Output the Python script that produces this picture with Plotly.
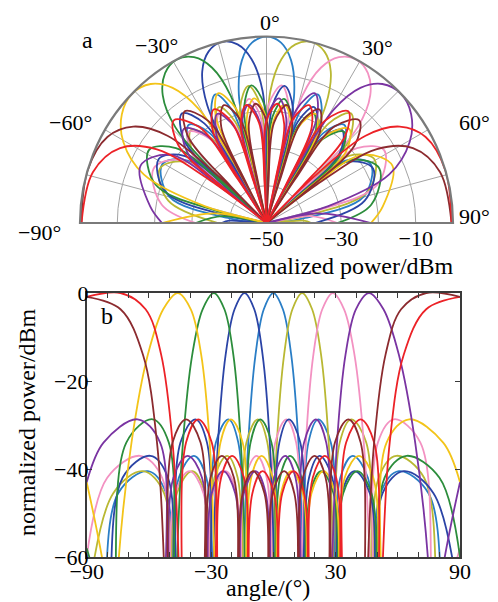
import plotly.graph_objects as go

# ---------------- data ----------------
# angles (deg) of key points of each beam pattern; cart_* = dB values in panel b,
# pol_* = dB values in panel a (polar, radial range -50..0)

ang_0 = [-90, -82.7, -74.8, -60.5, -51.7, -49.3, -48.6, -47.9, -45.6, -38.3, -32.3, -30.5, -30.0, -29.5, -27.7, -21.7,
         -16.9, -15.2, -14.8, -14.2, -12.1, -8.6, -4.6, 0, 4.6, 8.6, 12.1, 14.2, 14.8, 15.2, 16.9, 21.7, 27.7, 29.5, 30.0,
         30.5, 32.3, 38.3, 45.6, 47.9, 48.6, 49.3, 51.7, 60.5, 74.8, 82.7, 90]
cart_0 = [-95, -78, -45.5, -40.5, -45.5, -78, -95, -75, -42, -37, -42, -75, -95, -70, -34, -28.7, -34, -70, -95, -62,
          -34, -14, -3.7, 0, -3.7, -14, -34, -62, -95, -70, -34, -28.7, -34, -70, -95, -75, -42, -37, -42, -75, -95,
          -78, -45.5, -40.5, -45.5, -78, -95]
pol_0 = [-50, -40, -23, -17.9, -23, -40, -50, -38, -21.5, -16.4, -21.5, -38, -50, -36, -18.5, -12.9, -18.5, -36, -50,
         -33, -14.6, -5.9, -1.5, 0, -1.5, -5.9, -14.6, -33, -50, -36, -18.5, -12.9, -18.5, -36, -50, -38, -21.5, -16.4,
         -21.5, -38, -50, -40, -23, -17.9, -23, -40, -50]

ang_p14 = [-90, -77.2, -62.9, -52.7, -50.2, -49.5, -48.8, -46.5, -39.1, -33.0, -31.2, -30.7, -30.1, -28.4, -22.3, -17.2,
           -15.5, -15.1, -14.6, -13.0, -7.5, -2.9, -1.3, -0.9, -0.3, 1.7, 5.2, 9.2, 13.9, 18.7, 23.0, 26.7, 29.0, 29.7,
           30.2, 32.0, 37.6, 44.8, 47.1, 47.7, 48.4, 50.8, 59.3, 72.7, 79.1, 81.9, 86.4, 90]
cart_p14 = [-72, -45.5, -40.5, -45.5, -78, -95, -78, -45.5, -40.5, -45.5, -78, -95, -75, -42, -37, -42, -75, -95, -70,
            -34, -28.7, -34, -70, -95, -62, -34, -14, -3.7, 0, -3.7, -14, -34, -62, -95, -70, -34, -28.7, -34, -70, -95,
            -75, -42, -37, -42, -75, -95, -78, -74]
pol_p14 = [-37, -23, -17.9, -23, -40, -50, -40, -23, -17.9, -23, -40, -50, -38, -21.5, -16.4, -21.5, -38, -50, -36,
           -18.5, -12.9, -18.5, -36, -50, -33, -14.6, -5.9, -1.5, 0, -1.5, -5.9, -14.6, -33, -50, -36, -18.5, -12.9,
           -18.5, -36, -50, -38, -21.5, -16.4, -21.5, -38, -50, -40, -38]

ang_m14 = [-90, -86.4, -81.9, -79.1, -72.7, -59.3, -50.8, -48.4, -47.7, -47.1, -44.8, -37.6, -32.0, -30.2, -29.7, -29.0,
           -26.7, -23.0, -18.7, -13.9, -9.2, -5.2, -1.7, 0.3, 0.9, 1.3, 2.9, 7.5, 13.0, 14.6, 15.1, 15.5, 17.2, 22.3,
           28.4, 30.1, 30.7, 31.2, 33.0, 39.1, 46.5, 48.8, 49.5, 50.2, 52.7, 62.9, 77.2, 90]
cart_m14 = [-74, -78, -95, -75, -42, -37, -42, -75, -95, -70, -34, -28.7, -34, -70, -95, -62, -34, -14, -3.7, 0, -3.7,
            -14, -34, -62, -95, -70, -34, -28.7, -34, -70, -95, -75, -42, -37, -42, -75, -95, -78, -45.5, -40.5, -45.5,
            -78, -95, -78, -45.5, -40.5, -45.5, -72]
pol_m14 = [-38, -40, -50, -38, -21.5, -16.4, -21.5, -38, -50, -36, -18.5, -12.9, -18.5, -36, -50, -33, -14.6, -5.9,
           -1.5, 0, -1.5, -5.9, -14.6, -33, -50, -36, -18.5, -12.9, -18.5, -36, -50, -38, -21.5, -16.4, -21.5, -38, -50,
           -40, -23, -17.9, -23, -40, -50, -40, -23, -17.9, -23, -37]

ang_p29 = [-90, -80.1, -64.2, -53.6, -51.1, -50.4, -49.6, -47.3, -40.5, -33.7, -31.9, -31.3, -30.8, -29.0, -23.0, -17.8,
           -16.1, -15.7, -15.2, -13.6, -8.0, -3.2, -1.6, -1.1, -0.7, 0.9, 6.3, 11.0, 12.5, 13.0, 13.6, 15.7, 19.3, 23.6,
           28.7, 34.1, 39.1, 43.6, 46.5, 47.3, 48.0, 50.4, 58.2, 70.9, 76.4, 78.5, 81.1, 90]
cart_p29 = [-60, -42, -37, -42, -75, -95, -78, -45.5, -40.5, -45.5, -78, -95, -78, -45.5, -40.5, -45.5, -78, -95, -75,
            -42, -37, -42, -75, -95, -70, -34, -28.7, -34, -70, -95, -62, -34, -14, -3.7, 0, -3.7, -14, -34, -62, -95,
            -70, -34, -28.7, -34, -70, -95, -75, -58]
pol_p29 = [-31, -21.5, -16.4, -21.5, -38, -50, -40, -23, -17.9, -23, -40, -50, -40, -23, -17.9, -23, -40, -50, -38,
           -21.5, -16.4, -21.5, -38, -50, -36, -18.5, -12.9, -18.5, -36, -50, -33, -14.6, -5.9, -1.5, 0, -1.5, -5.9,
           -14.6, -33, -50, -36, -18.5, -12.9, -18.5, -36, -50, -38, -31]

ang_m29 = [-90, -81.1, -78.5, -76.4, -70.9, -58.2, -50.4, -48.0, -47.3, -46.5, -43.6, -39.1, -34.1, -28.7, -23.6, -19.3,
           -15.7, -13.6, -13.0, -12.5, -11.0, -6.3, -0.9, 0.7, 1.1, 1.6, 3.2, 8.0, 13.6, 15.2, 15.7, 16.1, 17.8, 23.0,
           29.0, 30.8, 31.3, 31.9, 33.7, 40.5, 47.3, 49.6, 50.4, 51.1, 53.6, 64.2, 80.1, 90]
cart_m29 = [-58, -75, -95, -70, -34, -28.7, -34, -70, -95, -62, -34, -14, -3.7, 0, -3.7, -14, -34, -62, -95, -70, -34,
            -28.7, -34, -70, -95, -75, -42, -37, -42, -75, -95, -78, -45.5, -40.5, -45.5, -78, -95, -78, -45.5, -40.5,
            -45.5, -78, -95, -75, -42, -37, -42, -60]
pol_m29 = [-31, -38, -50, -36, -18.5, -12.9, -18.5, -36, -50, -33, -14.6, -5.9, -1.5, 0, -1.5, -5.9, -14.6, -33, -50,
           -36, -18.5, -12.9, -18.5, -36, -50, -38, -21.5, -16.4, -21.5, -38, -50, -40, -23, -17.9, -23, -40, -50, -40,
           -23, -17.9, -23, -40, -50, -38, -21.5, -16.4, -21.5, -31]

ang_p46 = [-90, -81.9, -65.5, -54.6, -52.0, -51.3, -50.5, -48.2, -41.3, -34.4, -32.6, -32.0, -31.5, -29.7, -24.2, -18.4,
           -16.7, -16.3, -15.8, -14.2, -8.6, -3.7, -2.2, -1.7, -1.3, 0.3, 5.7, 10.7, 12.2, 12.7, 13.2, 14.8, 20.5, 25.5,
           27.2, 27.7, 28.4, 30.7, 34.8, 39.8, 46.1, 53.1, 60.5, 68.4, 74.8, 77.2, 79.4, 90]
cart_p46 = [-43, -34, -28.7, -34, -70, -95, -75, -42, -37, -42, -75, -95, -78, -45.5, -40.5, -45.5, -78, -95, -78,
            -45.5, -40.5, -45.5, -78, -95, -75, -42, -37, -42, -75, -95, -70, -34, -28.7, -34, -70, -95, -62, -34, -14,
            -3.7, 0, -3.7, -14, -34, -62, -95, -70, -43]
pol_p46 = [-22, -18.5, -12.9, -18.5, -36, -50, -38, -21.5, -16.4, -21.5, -38, -50, -40, -23, -17.9, -23, -40, -50, -40,
           -23, -17.9, -23, -40, -50, -38, -21.5, -16.4, -21.5, -38, -50, -36, -18.5, -12.9, -18.5, -36, -50, -33,
           -14.6, -5.9, -1.5, 0, -1.5, -5.9, -14.6, -33, -50, -36, -22]

ang_m46 = [-90, -79.4, -77.2, -74.8, -68.4, -60.5, -53.1, -46.1, -39.8, -34.8, -30.7, -28.4, -27.7, -27.2, -25.5, -20.5,
           -14.8, -13.2, -12.7, -12.2, -10.7, -5.7, -0.3, 1.3, 1.7, 2.2, 3.7, 8.6, 14.2, 15.8, 16.3, 16.7, 18.4, 24.2,
           29.7, 31.5, 32.0, 32.6, 34.4, 41.3, 48.2, 50.5, 51.3, 52.0, 54.6, 65.5, 81.9, 90]
cart_m46 = [-43, -70, -95, -62, -34, -14, -3.7, 0, -3.7, -14, -34, -62, -95, -70, -34, -28.7, -34, -70, -95, -75, -42,
            -37, -42, -75, -95, -78, -45.5, -40.5, -45.5, -78, -95, -78, -45.5, -40.5, -45.5, -78, -95, -75, -42, -37,
            -42, -75, -95, -70, -34, -28.7, -34, -43]
pol_m46 = [-22, -36, -50, -33, -14.6, -5.9, -1.5, 0, -1.5, -5.9, -14.6, -33, -50, -36, -18.5, -12.9, -18.5, -36, -50,
           -38, -21.5, -16.4, -21.5, -38, -50, -40, -23, -17.9, -23, -40, -50, -40, -23, -17.9, -23, -40, -50, -38,
           -21.5, -16.4, -21.5, -38, -50, -36, -18.5, -12.9, -18.5, -22]

ang_p74 = [-90, -73.7, -62.9, -56.1, -52.7, -51.7, -51.0, -48.6, -42.1, -35.1, -33.2, -32.7, -32.1, -30.3, -24.8, -19.0,
           -17.3, -16.9, -16.4, -14.8, -9.8, -4.3, -2.8, -2.3, -1.8, -0.3, 5.2, 10.1, 11.7, 12.1, 12.6, 14.2, 19.9, 25.2,
           26.9, 27.4, 27.9, 29.7, 36.2, 42.1, 44.2, 44.8, 45.6, 48.6, 54.1, 61.6, 73.7, 90]
cart_p74 = [-0.9, -3.7, -14, -34, -62, -95, -70, -34, -28.7, -34, -70, -95, -75, -42, -37, -42, -75, -95, -78, -45.5,
            -40.5, -45.5, -78, -95, -78, -45.5, -40.5, -45.5, -78, -95, -75, -42, -37, -42, -75, -95, -70, -34, -28.7,
            -34, -70, -95, -62, -34, -14, -3.7, 0, -0.9]
pol_p74 = [-0.4, -1.5, -5.9, -14.6, -33, -50, -36, -18.5, -12.9, -18.5, -36, -50, -38, -21.5, -16.4, -21.5, -38, -50,
           -40, -23, -17.9, -23, -40, -50, -40, -23, -17.9, -23, -40, -50, -38, -21.5, -16.4, -21.5, -38, -50, -36,
           -18.5, -12.9, -18.5, -36, -50, -33, -14.6, -5.9, -1.5, 0, -0.4]

ang_m74 = [-90, -73.7, -61.6, -54.1, -48.6, -45.6, -44.8, -44.2, -42.1, -36.2, -29.7, -27.9, -27.4, -26.9, -25.2, -19.9,
           -14.2, -12.6, -12.1, -11.7, -10.1, -5.2, 0.3, 1.8, 2.3, 2.8, 4.3, 9.8, 14.8, 16.4, 16.9, 17.3, 19.0, 24.8,
           30.3, 32.1, 32.7, 33.2, 35.1, 42.1, 48.6, 51.0, 51.7, 52.7, 56.1, 62.9, 73.7, 90]
cart_m74 = [-0.9, 0, -3.7, -14, -34, -62, -95, -70, -34, -28.7, -34, -70, -95, -75, -42, -37, -42, -75, -95, -78, -45.5,
            -40.5, -45.5, -78, -95, -78, -45.5, -40.5, -45.5, -78, -95, -75, -42, -37, -42, -75, -95, -70, -34, -28.7,
            -34, -70, -95, -62, -34, -14, -3.7, -0.9]
pol_m74 = [-0.4, 0, -1.5, -5.9, -14.6, -33, -50, -36, -18.5, -12.9, -18.5, -36, -50, -38, -21.5, -16.4, -21.5, -38,
           -50, -40, -23, -17.9, -23, -40, -50, -40, -23, -17.9, -23, -40, -50, -38, -21.5, -16.4, -21.5, -38, -50,
           -36, -18.5, -12.9, -18.5, -36, -50, -33, -14.6, -5.9, -1.5, -0.4]

x_tickvals = list(range(-90, 91, 10))
x_ticklabels = {-90: "−90", -30: "−30", 30: "30", 90: "90"}
y_tickvals = [0, -20, -40, -60]
y_ticklabels = ["0", "−20", "−40", "−60"]
theta_gridvals = list(range(-90, 91, 15))
theta_labels = ["−90°", "−60°", "−30°", "0°", "30°", "60°", "90°"]
r_tickvals = [-50, -40, -30, -20, -10, 0]
r_ticklabels = ["−50", "", "−30", "", "−10", ""]

# ---------------- styling ----------------
RED, BROWN = "#ec2227", "#8c2b2f"
YELLOW, GREEN = "#f3c419", "#2c8d3c"
DBLUE, BLUE = "#2b44a6", "#2a7ec6"
OLIVE, PINK, PURPLE = "#b9b833", "#f392c2", "#7a34a2"
FONT = "Liberation Serif"
LW = 1.8
W, H = 498, 602
OFF = 8  # page offset of the plot inside the browser window


def px(xp):
    return (xp - OFF) / W


def py(yp):
    return 1 - (yp - OFF) / H


# pixel spots of the polar angle labels (placement only)
theta_label_pos = [(40, 232), (71, 122), (156, 46), (270, 22), (377, 47), (474, 122), (474, 216)]

# (angles, cartesian dB, polar dB, colour in b, colour in a) in drawing order
beams = [
    (ang_0, cart_0, pol_0, BLUE, BLUE),
    (ang_p14, cart_p14, pol_p14, OLIVE, OLIVE),
    (ang_p29, cart_p29, pol_p29, PINK, PINK),
    (ang_m14, cart_m14, pol_m14, DBLUE, DBLUE),
    (ang_m29, cart_m29, pol_m29, GREEN, GREEN),
    (ang_m46, cart_m46, pol_m46, YELLOW, YELLOW),
    (ang_p46, cart_p46, pol_p46, PURPLE, PURPLE),
    (ang_m74, cart_m74, pol_m74, RED, BROWN),
    (ang_p74, cart_p74, pol_p74, BROWN, RED),
]

fig = go.Figure()
for ang, cdb, pdb, ccol, pcol in beams:
    fig.add_trace(go.Scatter(x=ang, y=cdb, mode="lines", xaxis="x", yaxis="y",
                             line=dict(color=ccol, width=LW, shape="spline"),
                             showlegend=False, hoverinfo="skip"))
for ang, cdb, pdb, ccol, pcol in beams:
    fig.add_trace(go.Scatterpolar(theta=ang, r=pdb, mode="lines", subplot="polar",
                                  line=dict(color=pcol, width=LW, shape="spline"),
                                  showlegend=False, hoverinfo="skip"))

tickfont = dict(family=FONT, size=22, color="black")
axcol = "#3a3a3a"
titlefont = dict(family=FONT, size=24, color="black")

annotations = [
    dict(text="a", x=px(87), y=py(40)),
    dict(text="b", x=px(107), y=py(316)),
    dict(text="normalized power/dBm", x=px(340), y=py(266)),
    dict(text="angle/(°)", x=px(268), y=py(588)),
    dict(text="normalized power/dBm", x=px(27), y=py(422), textangle=-90),
]
for lab, (lx, ly) in zip(theta_labels, theta_label_pos):
    annotations.append(dict(text=lab, x=px(lx), y=py(ly), font=tickfont))
for a in annotations:
    a.update(xref="paper", yref="paper", xanchor="center", yanchor="middle", showarrow=False)
    a.setdefault("font", titlefont)

fig.update_layout(
    width=W, height=H,
    autosize=False,
    margin=dict(l=0, r=0, t=0, b=0, pad=0, autoexpand=False),
    paper_bgcolor="white", plot_bgcolor="white",
    font=dict(family=FONT, color="black"),
    polar=dict(
        domain=dict(x=[px(80), px(453)], y=[py(223), py(36.5)]),
        sector=[0, 180],
        bgcolor="white",
        angularaxis=dict(rotation=90, direction="clockwise",
                         tickvals=theta_gridvals, showticklabels=False,
                         ticks="", showgrid=True, gridcolor="#a3a3a3", gridwidth=1.3,
                         showline=True, linecolor="#7a7a7a", linewidth=2.2),
        radialaxis=dict(range=[-50, 0], tickvals=r_tickvals, ticktext=r_ticklabels,
                        angle=0, side="clockwise", showline=False, ticks="",
                        showgrid=True, gridcolor="#a3a3a3", gridwidth=1.3,
                        tickfont=tickfont),
    ),
    xaxis=dict(domain=[px(86.7), px(460)], anchor="y", range=[-90, 90], automargin=False,
               tickvals=x_tickvals, ticktext=[x_ticklabels.get(v, "") for v in x_tickvals],
               ticks="inside", ticklen=5, tickwidth=1.3, tickcolor=axcol, ticklabelstandoff=-6,
               showline=True, linecolor=axcol, linewidth=1.6, mirror="ticks",
               showgrid=False, zeroline=False, tickfont=tickfont),
    yaxis=dict(domain=[py(557), py(293)], anchor="x", range=[-60, 0], automargin=False,
               tickvals=y_tickvals, ticktext=y_ticklabels,
               ticks="inside", ticklen=5, tickwidth=1.3, tickcolor=axcol, ticklabelstandoff=-8,
               showline=True, linecolor=axcol, linewidth=1.6, mirror="ticks",
               showgrid=False, zeroline=False, tickfont=tickfont),
    annotations=annotations,
)

fig.write_html("out.html")
